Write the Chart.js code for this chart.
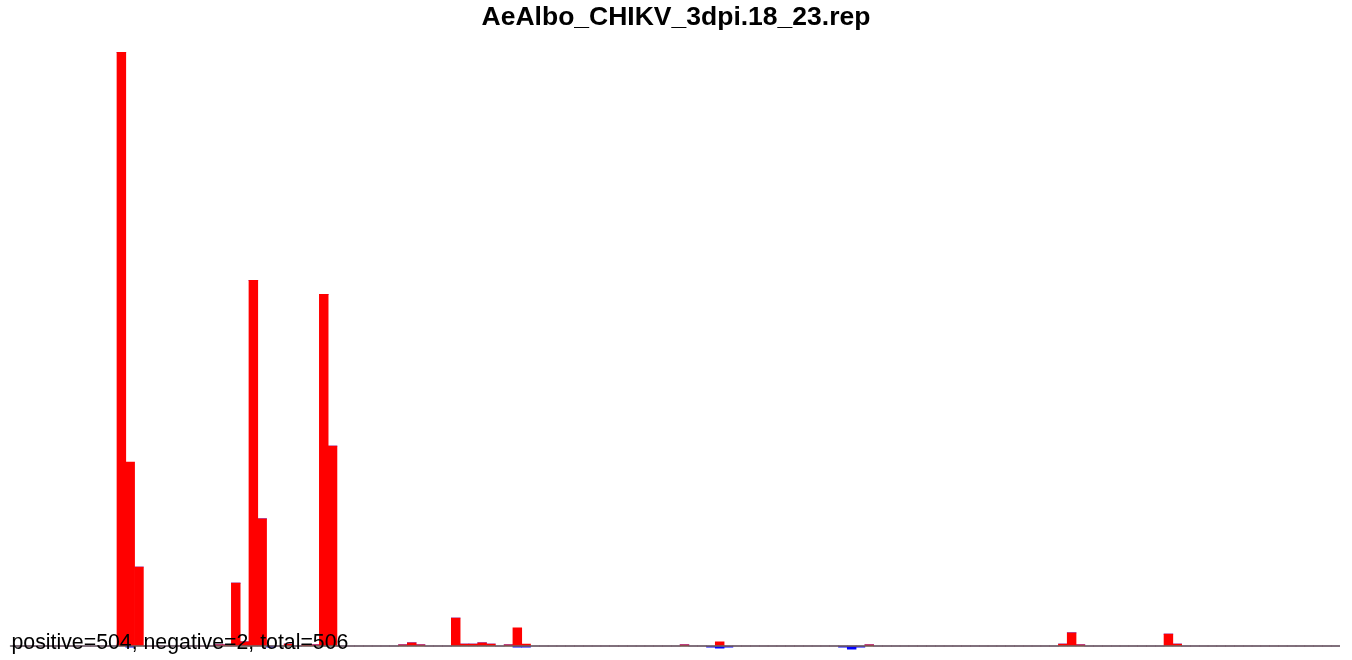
<!DOCTYPE html>
<html>
<head>
<meta charset="utf-8">
<style>
    html, body { margin: 0; padding: 0; background: #ffffff; }
    #wrap { width: 1352px; height: 660px; position: relative; }
</style>
<script src="https://cdn.jsdelivr.net/npm/chart.js@4/dist/chart.umd.min.js"></script>
</head>
<body>
<div id="wrap"><canvas id="rep-chart"></canvas></div>
<script>
// Chart data
const chartTitle = 'AeAlbo_CHIKV_3dpi.18_23.rep';
const summaryText = 'positive=504, negative=2, total=506';
const binCount = 151;

// positive strand: bin index -> value
const posBins = [12, 13, 14, 23, 24, 25, 26, 27, 28, 31, 33, 34, 35, 36,
    44, 45, 46, 50, 51, 52, 53, 54, 56, 57, 58, 76, 80, 97, 119, 120, 121, 131, 132];
const posValues = [144.3, 44.7, 19.2, 0.3, 0.3, 15.3, 1, 88.9, 30.9, 0.5, 0.3, 0.3, 85.5, 48.6,
    0.3, 0.75, 0.3, 6.8, 0.5, 0.5, 0.75, 0.5, 0.3, 4.4, 0.5, 0.3, 1, 0.3, 0.5, 3.2, 0.3, 2.9, 0.5];

// negative strand: bin index -> value
const negBins = [13, 29, 57, 58, 79, 80, 81, 94, 95, 96];
const negValues = [-0.3, -0.3, -0.3, -0.3, -0.3, -0.5, -0.3, -0.3, -0.75, -0.3];

const yMin = -3.4;
const yMax = 150;

document.addEventListener('DOMContentLoaded', function () {
    const labels = [];
    const posData = [];
    const negData = [];
    for (let i = 0; i < binCount; i++) {
        labels.push(String(i + 1));
        posData.push(0);
        negData.push(0);
    }
    posBins.forEach((b, k) => { posData[b] = posValues[k]; });
    negBins.forEach((b, k) => { negData[b] = negValues[k]; });

    // baseline, title and summary text
    const decorations = {
        id: 'decorations',
        afterDatasetsDraw(chart) {
            const ctx = chart.ctx;
            const area = chart.chartArea;
            const y0 = chart.scales.y.getPixelForValue(0);
            ctx.save();
            ctx.strokeStyle = '#666666';
            ctx.lineWidth = 1.5;
            ctx.beginPath();
            ctx.moveTo(area.left - 1.5, y0);
            ctx.lineTo(area.right, y0);
            ctx.stroke();

            ctx.fillStyle = '#000000';
            ctx.font = 'bold 26.5px "Liberation Sans", Arial, sans-serif';
            ctx.textAlign = 'center';
            ctx.textBaseline = 'middle';
            ctx.fillText(chartTitle, chart.width / 2, 18);

            ctx.font = '21.3px "Liberation Sans", Arial, sans-serif';
            ctx.textAlign = 'left';
            ctx.textBaseline = 'alphabetic';
            ctx.fillText(summaryText, 11.5, 648.5);
            ctx.restore();
        }
    };

    new Chart(document.getElementById('rep-chart'), {
        type: 'bar',
        data: {
            labels: labels,
            datasets: [
                {
                    label: 'positive',
                    data: posData,
                    backgroundColor: '#ff0000',
                    borderWidth: 0,
                    barPercentage: 1,
                    categoryPercentage: 1
                },
                {
                    label: 'negative',
                    data: negData,
                    backgroundColor: '#0000ff',
                    borderWidth: 0,
                    barPercentage: 1,
                    categoryPercentage: 1
                }
            ]
        },
        options: {
            responsive: true,
            maintainAspectRatio: false,
            animation: false,
            layout: { padding: { left: 11.4, right: 12, top: 29, bottom: 0 } },
            scales: {
                x: { stacked: true, display: false },
                y: { stacked: true, display: false, min: yMin, max: yMax }
            },
            plugins: {
                legend: { display: false },
                tooltip: { enabled: false }
            }
        },
        plugins: [decorations]
    });
});
</script>
</body>
</html>
